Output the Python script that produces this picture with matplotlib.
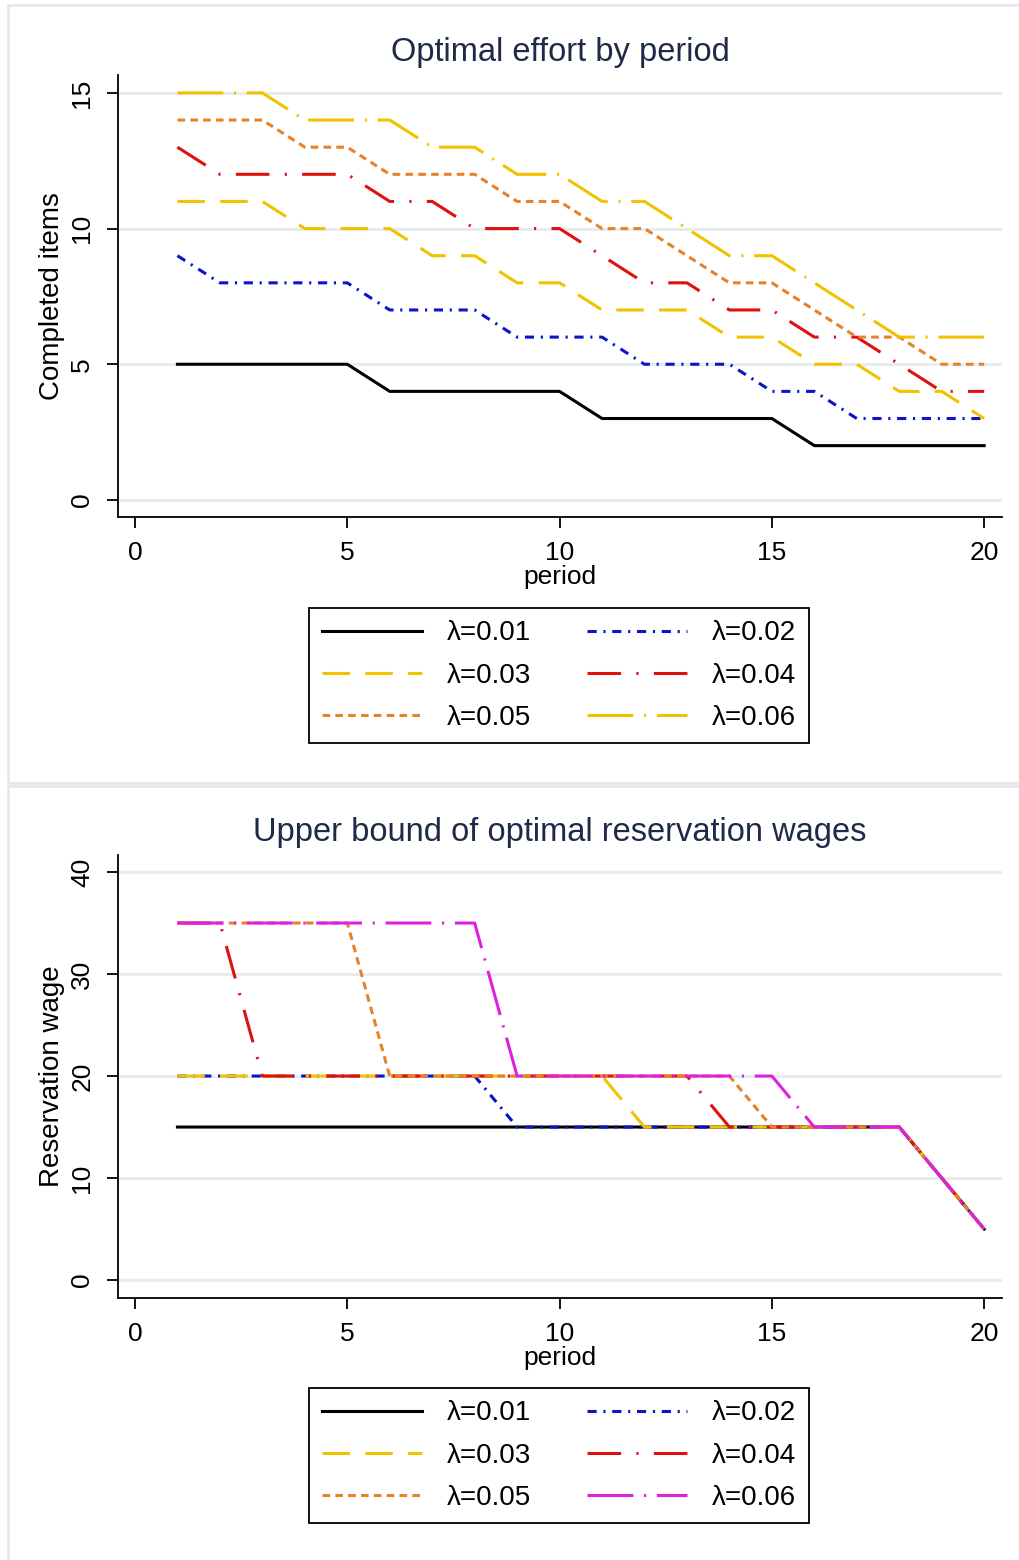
import matplotlib.pyplot as plt
from matplotlib.patches import Rectangle

# ---- data ----
periods = list(range(1, 21))
labels = ["λ=0.01", "λ=0.02", "λ=0.03", "λ=0.04", "λ=0.05", "λ=0.06"]

# optimal effort (completed items)
eff_001 = [5, 5, 5, 5, 5, 4, 4, 4, 4, 4, 3, 3, 3, 3, 3, 2, 2, 2, 2, 2]
eff_002 = [9, 8, 8, 8, 8, 7, 7, 7, 6, 6, 6, 5, 5, 5, 4, 4, 3, 3, 3, 3]
eff_003 = [11, 11, 11, 10, 10, 10, 9, 9, 8, 8, 7, 7, 7, 6, 6, 5, 5, 4, 4, 3]
eff_004 = [13, 12, 12, 12, 12, 11, 11, 10, 10, 10, 9, 8, 8, 7, 7, 6, 6, 5, 4, 4]
eff_005 = [14, 14, 14, 13, 13, 12, 12, 12, 11, 11, 10, 10, 9, 8, 8, 7, 6, 6, 5, 5]
eff_006 = [15, 15, 15, 14, 14, 14, 13, 13, 12, 12, 11, 11, 10, 9, 9, 8, 7, 6, 6, 6]

# upper bound of reservation wages
wage_001 = [15] * 18 + [10, 5]
wage_002 = [20] * 8 + [15] * 10 + [10, 5]
wage_003 = [20] * 11 + [15] * 7 + [10, 5]
wage_004 = [35] * 2 + [20] * 11 + [15] * 5 + [10, 5]
wage_005 = [35] * 5 + [20] * 9 + [15] * 4 + [10, 5]
wage_006 = [35] * 8 + [20] * 7 + [15] * 3 + [10, 5]

# ---- styles ----
effort_colors = ["black", "#0a14c8", "#f2c200", "#e01010", "#e8822a", "#f2c200"]
wage_colors = ["black", "#0a14c8", "#f2c200", "#e01010", "#e8822a", "#e020e0"]
dashes = [
    None,                  # solid
    (3, 2.2, 0.7, 2.2),    # dash dot
    (9, 5),                # long dash
    (11, 5, 0.7, 5),       # long dash dot
    (2.5, 1.7),            # short dash
    (15, 3.5, 0.7, 3.5),   # very long dash dot
]

plt.rcParams['font.family'] = ['Liberation Sans', 'DejaVu Sans']

fig = plt.figure(figsize=(10.2, 15.6), dpi=100)

# graph region borders (Stata style)
fig.add_artist(Rectangle((8 / 1020, 1 - 783 / 1560), 1.0, 778 / 1560,
                         transform=fig.transFigure, fill=False,
                         edgecolor="#e3e9eb", lw=2))
fig.add_artist(Rectangle((8 / 1020, -0.01), 1.0, 1 - 786 / 1560 + 0.01,
                         transform=fig.transFigure, fill=False,
                         edgecolor="#e3e9eb", lw=2))

ax1 = fig.add_axes([118 / 1020, 1 - 517 / 1560, 884 / 1020, 442 / 1560])
ax2 = fig.add_axes([118 / 1020, 1 - 1298 / 1560, 884 / 1020, 443 / 1560])


def draw_panel(ax, series, colors, title, ylabel, ylim, yticks, leg_top):
    lines = []
    for vals, col, ds, lab in zip(series, colors, dashes, labels):
        line, = ax.plot(periods, vals, color=col, lw=2.2, label=lab)
        if ds is not None:
            line.set_dashes(ds)
        lines.append(line)
    ax.set_xlim(-0.4, 20.42)
    ax.set_ylim(*ylim)
    ax.set_xticks([0, 5, 10, 15, 20])
    ax.set_yticks(yticks)
    ax.grid(axis='y', color="#e6edef", lw=2.2)
    ax.set_axisbelow(True)
    ax.spines['top'].set_visible(False)
    ax.spines['right'].set_visible(False)
    ax.spines['left'].set_linewidth(1.3)
    ax.spines['bottom'].set_linewidth(1.3)
    ax.tick_params(axis='both', length=8, width=1.3, labelsize=19, pad=9)
    for t in ax.get_yticklabels():
        t.set_rotation(90)
        t.set_va('center')
    ax.set_xlabel("period", fontsize=19, labelpad=0)
    ax.set_ylabel(ylabel, fontsize=20, labelpad=4)
    ax.set_title(title, fontsize=23.5, color="#1e2a48", pad=10)
    # row-wise legend order like the reference
    order = [0, 2, 4, 1, 3, 5]
    leg = ax.legend([lines[i] for i in order], [labels[i] for i in order],
                    loc='upper center', bbox_to_anchor=(559 / 1020, leg_top),
                    bbox_transform=fig.transFigure, ncol=2, fontsize=20,
                    handlelength=3.6, handletextpad=0.9, columnspacing=2.0,
                    labelspacing=0.58, borderpad=0.45, borderaxespad=0,
                    fancybox=False, edgecolor="black", framealpha=1)
    leg.get_frame().set_linewidth(1.3)


draw_panel(ax1, [eff_001, eff_002, eff_003, eff_004, eff_005, eff_006],
           effort_colors, "Optimal effort by period", "Completed items",
           (-0.63, 15.66), [0, 5, 10, 15], 1 - 608 / 1560)
draw_panel(ax2, [wage_001, wage_002, wage_003, wage_004, wage_005, wage_006],
           wage_colors, "Upper bound of optimal reservation wages",
           "Reservation wage", (-1.76, 41.67), [0, 10, 20, 30, 40],
           1 - 1388 / 1560)

fig.savefig("out.png", dpi=100)
